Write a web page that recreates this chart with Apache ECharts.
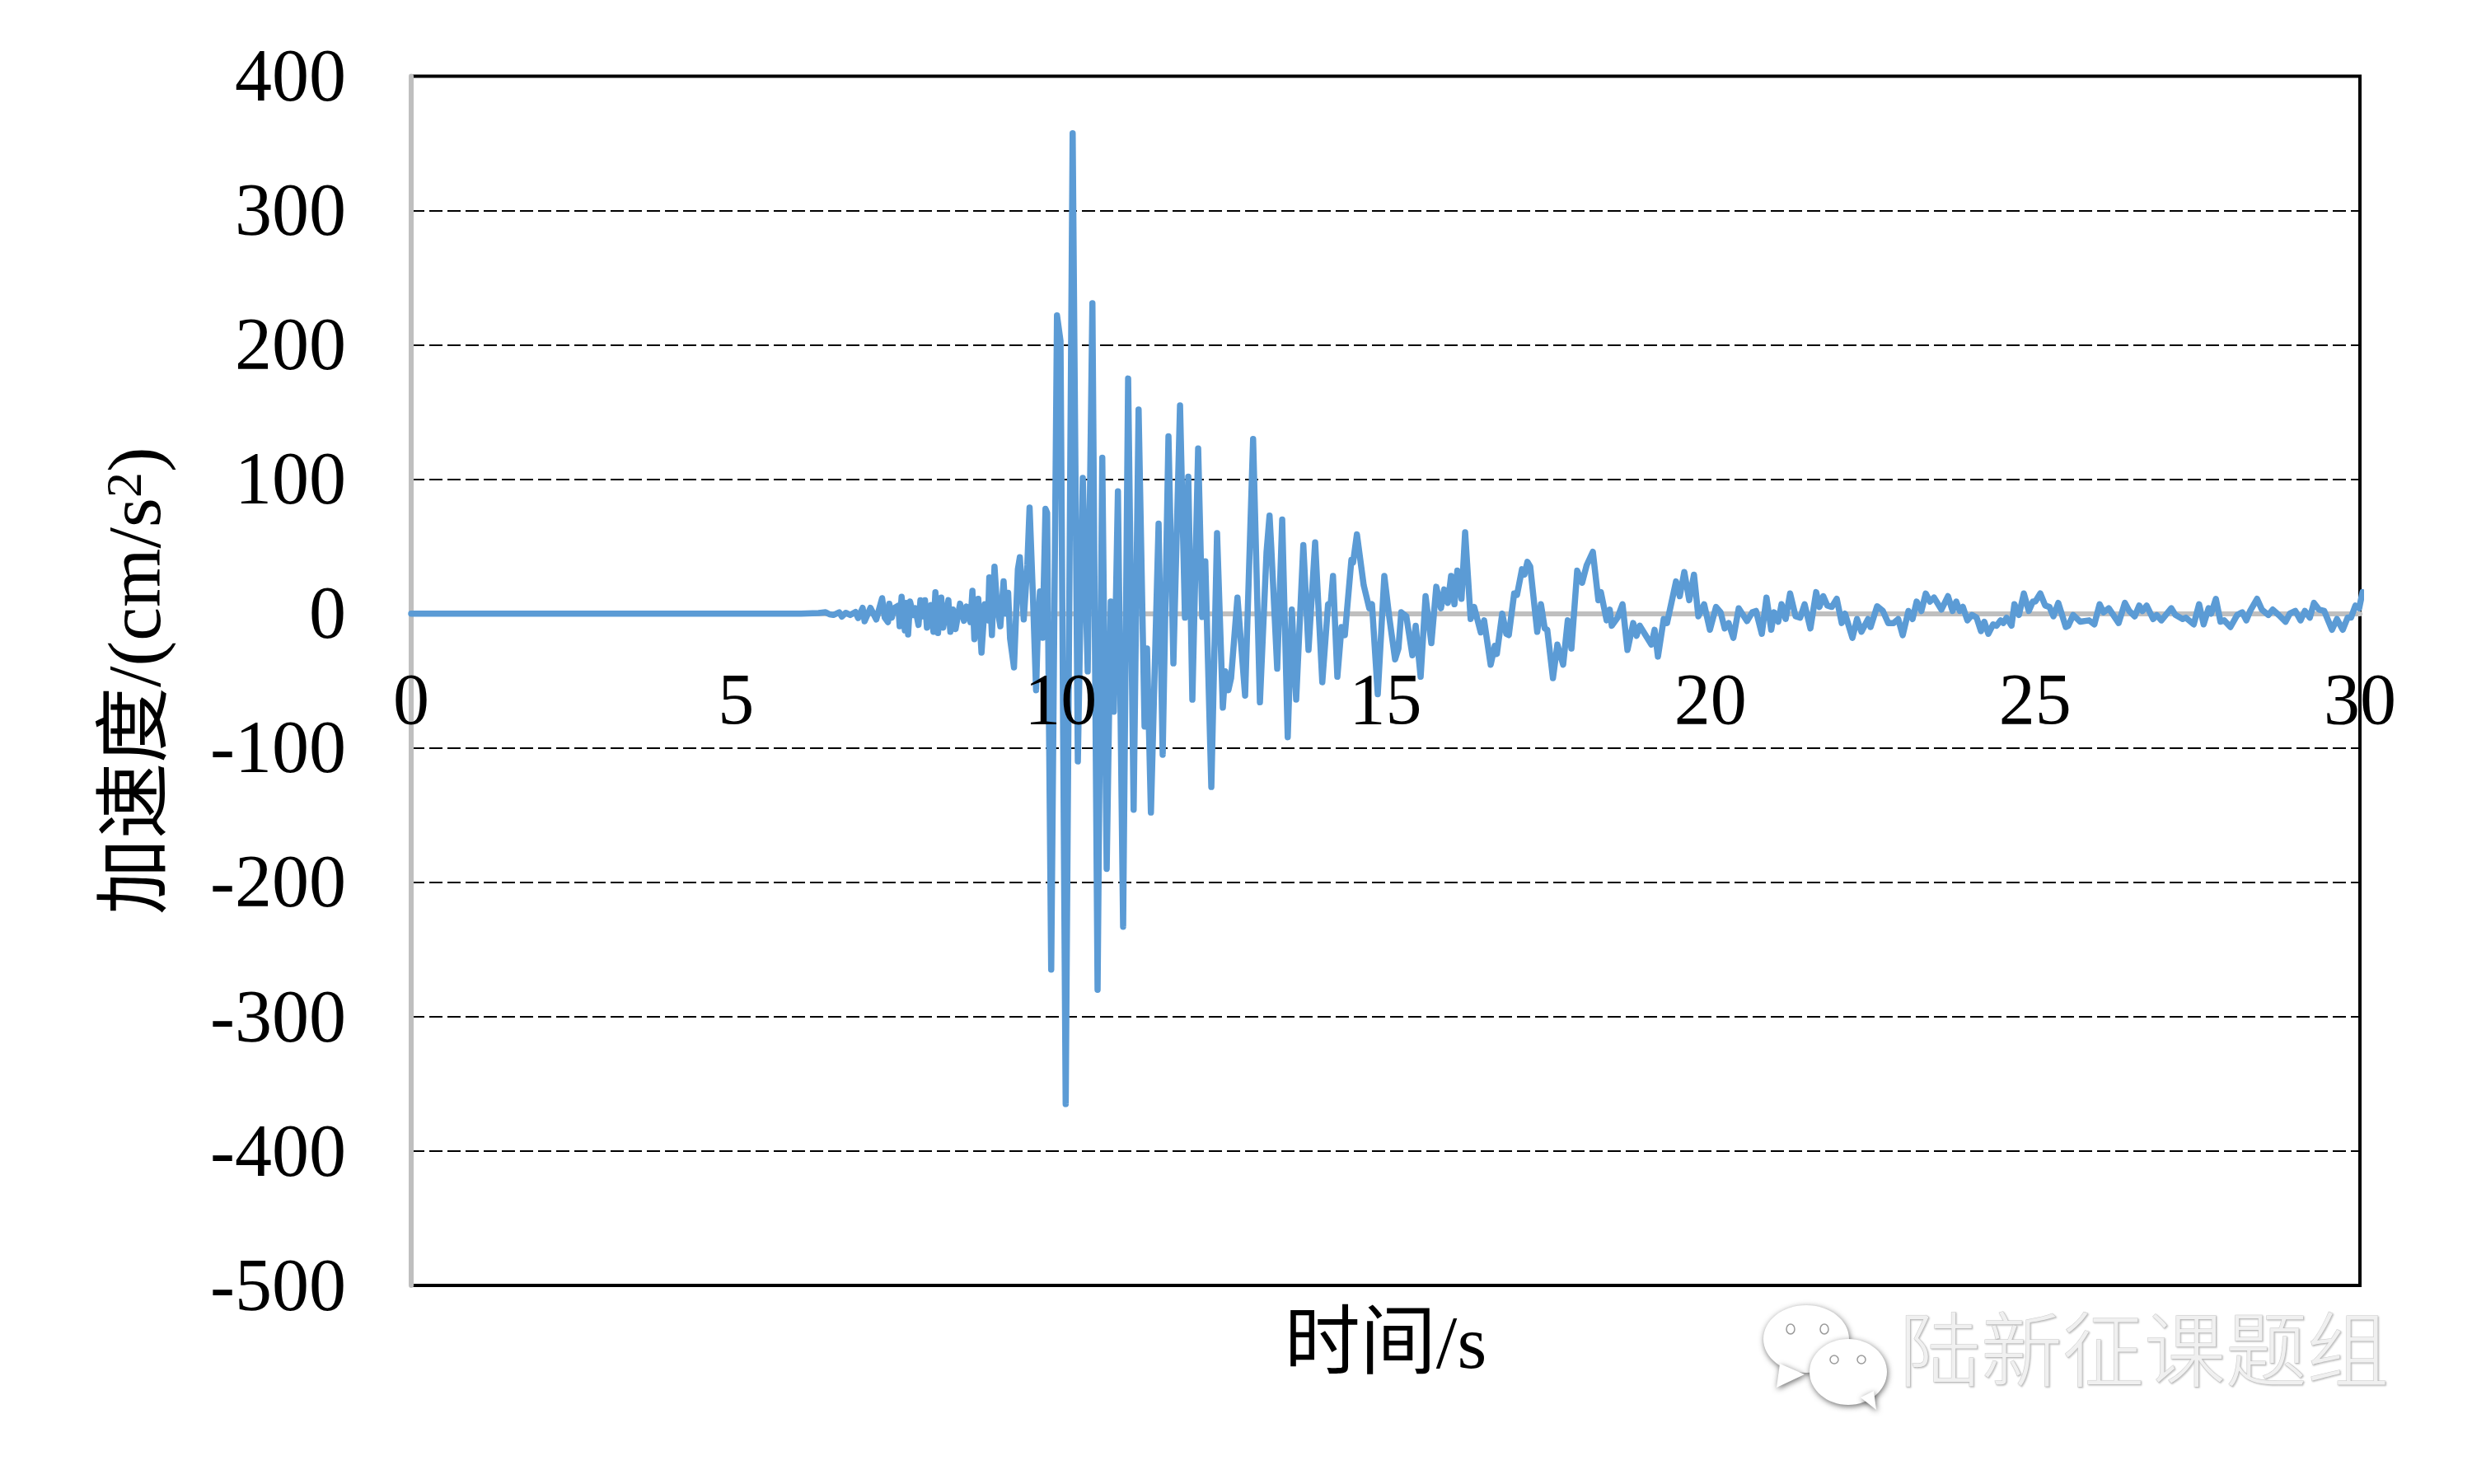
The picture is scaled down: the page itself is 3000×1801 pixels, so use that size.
<!DOCTYPE html>
<html>
<head>
<meta charset="utf-8">
<style>html,body{margin:0;padding:0;background:#fff}#c{width:3000px;height:1801px}</style>
<script src="https://cdn.jsdelivr.net/npm/echarts@6/dist/echarts.min.js"></script>
</head>
<body>
<div id="c"></div>
<script>
const xName = '时间/s';
const yNameMain = '加速度/(cm/s';
const watermark = '陆新征课题组';
const xRange = [0, 30, 5];
const yRange = [-500, 400, 100];
const times = [0,6,6.27,6.38,6.44,6.5,6.59,6.63,6.69,6.76,6.84,6.88,6.95,6.98,7.07,7.16,7.25,7.29,7.34,7.36,7.4,7.43,7.5,7.52,7.55,7.6,7.62,7.65,7.68,7.73,7.76,7.81,7.84,7.88,7.91,7.94,7.96,8,8.04,8.07,8.11,8.16,8.19,8.23,8.27,8.3,8.34,8.38,8.45,8.51,8.55,8.61,8.64,8.67,8.73,8.78,8.83,8.88,8.9,8.94,8.98,9.02,9.07,9.12,9.15,9.19,9.22,9.28,9.34,9.37,9.43,9.485,9.52,9.57,9.62,9.65,9.68,9.72,9.765,9.79,9.853,9.942,9.996,10.076,10.183,10.263,10.339,10.415,10.487,10.567,10.639,10.707,10.77,10.817,10.88,10.96,11.037,11.122,11.198,11.29,11.328,11.388,11.506,11.569,11.658,11.734,11.836,11.912,11.963,12.026,12.115,12.178,12.225,12.318,12.406,12.495,12.533,12.58,12.622,12.72,12.838,12.961,13.066,13.168,13.214,13.24,13.332,13.409,13.494,13.557,13.624,13.734,13.814,13.916,14.026,14.115,14.157,14.191,14.258,14.322,14.373,14.474,14.5,14.559,14.664,14.749,14.791,14.88,14.981,15.058,15.147,15.198,15.242,15.32,15.413,15.464,15.54,15.616,15.705,15.781,15.853,15.903,15.959,16.009,16.06,16.105,16.169,16.225,16.31,16.364,16.466,16.517,16.618,16.682,16.713,16.796,16.859,16.897,16.98,17.024,17.1,17.138,17.184,17.227,17.335,17.392,17.45,17.489,17.577,17.645,17.734,17.805,17.861,17.95,18.026,18.096,18.191,18.276,18.315,18.403,18.451,18.483,18.572,18.648,18.724,18.813,18.864,18.914,18.99,19.092,19.142,19.193,19.282,19.333,19.472,19.529,19.599,19.675,19.748,19.815,19.904,19.993,20.088,20.158,20.221,20.281,20.354,20.437,20.564,20.646,20.703,20.792,20.864,20.937,20.982,21.045,21.096,21.159,21.228,21.312,21.383,21.451,21.54,21.629,21.68,21.738,21.801,21.87,21.946,22.023,22.073,22.187,22.258,22.326,22.428,22.466,22.567,22.656,22.739,22.821,22.892,22.961,23.05,23.113,23.176,23.249,23.316,23.38,23.443,23.557,23.658,23.729,23.785,23.84,23.887,23.957,24.027,24.099,24.166,24.217,24.28,24.353,24.407,24.467,24.51,24.56,24.636,24.681,24.75,24.826,24.902,24.965,25.003,25.079,25.155,25.22,25.282,25.356,25.473,25.51,25.586,25.694,25.83,25.911,25.993,26.053,26.133,26.285,26.382,26.449,26.533,26.602,26.652,26.716,26.817,26.87,26.944,27.096,27.16,27.27,27.32,27.441,27.524,27.594,27.67,27.71,27.782,27.853,27.91,28.006,28.11,28.188,28.251,28.31,28.416,28.49,28.59,28.657,28.75,28.855,28.92,29.006,29.086,29.152,29.228,29.292,29.37,29.45,29.57,29.646,29.735,29.81,29.862,29.93,29.988,30.04];
const values = [0,0,0.5,1,-0.5,-1,1,-2.2,0.6,-1,1.2,-3.3,4.3,-5.7,4.3,-4.3,11.5,-3,-6.3,7.4,-3,4,6,-9.4,12.5,-12.5,8,-15.5,9,-1,4,-8.4,10,-2,10,-10.4,0,6.3,-13.5,16,-14.5,12,-10.4,0,10,-13.5,3,-11.5,7.4,-5.3,5.3,-6.3,17,-19,11,-29,7,-5,27,-16,35,5,-9.4,24,0,15.5,-18.6,-40,33,42,-4.3,36,79,15,-57,-7,16.5,-18,78,75,-265,222,203,-365,357.5,-110,101,-43,231,-280,116,-190,9,-73,91,-233,175,-146,152,-84,-26,-148,67,-105,132,-37,155,-3,102,-64,123,-2.5,39,-129,60,-70,-43,-57,-48,12,-61,130,-66,46,73,50,-41,70,-92,3,-64,51,-27,53,-51,7,8,28,-47,-10,-16,40,38,59,21,4,7,-60,28,-3,-34,-26,1,-2,-31,-9,-47,13,-22,20,4,18,8,28,7,32,11,60.5,-4,5,-14,-5,-38,-24,-30,0,-15,-16,15,14,33,29,38.6,35,-13.5,7,-11,-12,-48,-23,-38,-5,-26,32,23,36,46,10,16,-5,3,-9,-3,7,-27,-7,-16.5,-9,-15,-23,-12,-32,-4,-7,24,13,31,10,29,-2,7,-12,5,1,-11,-7,-18,4,-5.5,1,2,-15,12,-12,1,-6,7,-4,15,-2,-3,7,-11,16,5,13,6,5,11,-7,0,-18,-4,-13.5,-4,-10,5.5,2,-7,-7,-4,-16,2,-4,9,2,15,9,12,3,13,2,9,2,5,-5,-1,-3,-13,-6,-15,-8,-9,-5,-7,-3,-9,7,-1,15,2,9,9,15,6,5,-2,8,-10,-9,-1,-6,-5,-8,7,1,4,-7,8,2,-2,6,2,6,-4,-1,-5,4,-1,-4,-3,-8,7,-8,4,0,11,-6,-5,-10,-1,1,-5,2,11,3,-1,3,-1,-6,0,2,-5,2,-3,8,3,2,-12,-4,-12,-3,-3,6,4,16];

const serif = '"Liberation Serif","Noto Sans CJK SC",serif';
const chart = echarts.init(document.getElementById('c'), null, {renderer: 'canvas'});
const emboss = {fill: '#ffffff', shadowBlur: 7, shadowColor: 'rgba(60,60,60,0.75)', shadowOffsetX: 1, shadowOffsetY: 2};
chart.setOption({
  animation: false,
  backgroundColor: '#ffffff',
  grid: {left: 499, top: 92.5, width: 2365, height: 1467.5, show: true, borderColor: '#000000', borderWidth: 4, backgroundColor: 'transparent', outerBoundsMode: 'none', containLabel: false},
  xAxis: [{
    type: 'value', min: xRange[0], max: xRange[1], interval: xRange[2],
    position: 'bottom', offset: -815, z: 1,
    axisLine: {show: true, onZero: false, lineStyle: {color: '#BFBFBF', width: 6}},
    axisTick: {show: false}, splitLine: {show: false}, axisLabel: {show: false}
  }, {
    type: 'value', min: xRange[0], max: xRange[1], interval: xRange[2],
    position: 'bottom', offset: -815, z: 10,
    name: xName, nameLocation: 'middle', nameGap: 845,
    nameTextStyle: {fontFamily: serif, fontSize: 92, color: '#000'},
    axisLine: {show: false, onZero: false},
    axisTick: {show: false}, splitLine: {show: false},
    axisLabel: {fontFamily: serif, fontSize: 88, color: '#000', margin: 66, showMinLabel: true, showMaxLabel: true, hideOverlap: false}
  }],
  yAxis: {
    type: 'value', min: yRange[0], max: yRange[1], interval: yRange[2],
    name: '{m|' + yNameMain + '}{s|2}{m|)}', nameLocation: 'middle', nameRotate: 90, nameGap: 283,
    nameTextStyle: {rich: {
      m: {fontFamily: serif, fontSize: 92, color: '#000'},
      s: {fontFamily: serif, fontSize: 62, color: '#000', verticalAlign: 'bottom', padding: [0, 0, 30, 0]}
    }},
    axisLine: {show: true, onZero: false, lineStyle: {color: '#BFBFBF', width: 6}},
    axisTick: {show: false},
    axisLabel: {fontFamily: serif, fontSize: 90, color: '#000', margin: 79, verticalAlign: 'top', lineHeight: 12, showMinLabel: true, showMaxLabel: true, hideOverlap: false},
    splitLine: {show: true, lineStyle: {color: '#000', width: 2, type: [16, 6]}}
  },
  series: [{
    type: 'line', xAxisIndex: 0, data: times.map((t, i) => [t, values[i]]), showSymbol: false, symbol: 'none',
    sampling: null, smooth: false, clip: false, z: 5,
    lineStyle: {color: '#5B9BD5', width: 7.5, cap: 'round', join: 'round'}
  }],
  graphic: [
    {type: 'ellipse', z: 1, shape: {cx: 2192, cy: 1625, rx: 52, ry: 41}, style: emboss},
    {type: 'polygon', z: 1, shape: {points: [[2160,1655],[2156,1684],[2190,1668]]}, style: emboss},
    {type: 'ellipse', z: 2, shape: {cx: 2243, cy: 1665, rx: 47, ry: 40}, style: emboss},
    {type: 'polygon', z: 2, shape: {points: [[2258,1696],[2277,1711],[2274,1688]]}, style: emboss},
    {type: 'ellipse', z: 3, shape: {cx: 2173, cy: 1613, rx: 5, ry: 6}, style: {fill: '#ffffff', stroke: '#9a9a9a', lineWidth: 1.5}},
    {type: 'ellipse', z: 3, shape: {cx: 2214, cy: 1613, rx: 5, ry: 6}, style: {fill: '#ffffff', stroke: '#9a9a9a', lineWidth: 1.5}},
    {type: 'ellipse', z: 3, shape: {cx: 2226, cy: 1650, rx: 5, ry: 5}, style: {fill: '#ffffff', stroke: '#9a9a9a', lineWidth: 1.5}},
    {type: 'ellipse', z: 3, shape: {cx: 2259, cy: 1650, rx: 5, ry: 5}, style: {fill: '#ffffff', stroke: '#9a9a9a', lineWidth: 1.5}},
    {type: 'text', z: 3, x: 2305, y: 1588, style: {
      text: watermark, fontFamily: '"Noto Sans CJK SC"', fontWeight: 300, fontSize: 99,
      fill: '#f0f0f0', stroke: '#cfcfcf', lineWidth: 1,
      textShadowColor: 'rgba(120,120,120,0.4)', textShadowBlur: 2, textShadowOffsetX: 1, textShadowOffsetY: 1
    }}
  ]
});
</script>
</body>
</html>
